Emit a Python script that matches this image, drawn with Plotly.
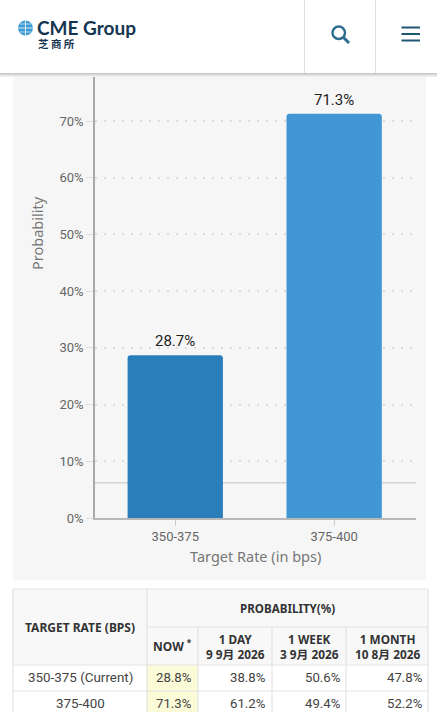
import plotly.graph_objects as go

W, H = 437, 712
FONT = "Roboto, Noto Sans CJK SC, sans-serif"
BODY = "Noto Sans, Noto Sans CJK SC, sans-serif"

# ---- data ----
categories = ["350-375", "375-400"]
probabilities = [28.7, 71.3]
bar_labels = ["28.7%", "71.3%"]
bar_colors = ["#2a7fba", "#4197d4"]
y_ticks = [0, 10, 20, 30, 40, 50, 60, 70]
y_tick_labels = ["0%", "10%", "20%", "30%", "40%", "50%", "60%", "70%"]
reference_level = 6.2

table_rates = ["350-375 (Current)", "375-400"]
table_now = ["28.8%", "71.3%"]
table_day = ["38.8%", "61.2%"]
table_week = ["50.6%", "49.4%"]
table_month = ["47.8%", "52.2%"]
table_heads = ["1 DAY<br>9 9月 2026", "1 WEEK<br>3 9月 2026", "1 MONTH<br>10 8月 2026"]


def px(x):
    return x / W


def py(y):
    return 1 - y / H


shapes, notes = [], []


def rect(x0, y0, x1, y1, fill, line=None, layer="above", lw=1):
    shapes.append(dict(type="rect", xref="paper", yref="paper", layer=layer,
                       x0=px(x0), x1=px(x1), y0=py(y0), y1=py(y1), fillcolor=fill,
                       line=dict(color=line or fill, width=lw if line else 0)))


def seg(x0, y0, x1, y1, color, w=1, layer="above"):
    shapes.append(dict(type="line", xref="paper", yref="paper", layer=layer,
                       x0=px(x0), x1=px(x1), y0=py(y0), y1=py(y1),
                       line=dict(color=color, width=w)))


def note(x, y, text, size=12, color="#444", anchor="center", weight=None, family=FONT, angle=0):
    if weight:
        text = f"<b>{text}</b>"
    notes.append(dict(xref="paper", yref="paper", x=px(x), y=py(y), text=text, showarrow=False,
                      xanchor=anchor, yanchor="middle", align=anchor, textangle=angle,
                      font=dict(family=family, size=size, color=color)))


# chart panel
rect(13, 70, 426, 580, "#f6f6f6", layer="below")
# reference line behind the bars
shapes.append(dict(type="line", xref="x domain", yref="y", layer="below", x0=0, x1=1,
                   y0=reference_level, y1=reference_level, line=dict(color="#d4d4d4", width=1.5)))

# header
for i, c in enumerate(["#f0f0f0", "#e4e4e4", "#d6d6d6", "#c8c8c8"]):
    rect(0, 73 + 3 - i, W, 73 + 4 - i, c)
rect(0, 0, W, 73, "#ffffff")
seg(304.5, 0, 304.5, 73, "#dedede")
seg(375.5, 0, 375.5, 73, "#dedede")
# globe logo
shapes.append(dict(type="circle", xref="paper", yref="paper", x0=px(18), x1=px(33), y0=py(35.5), y1=py(20.5),
                   fillcolor="#3f9bd6", line=dict(width=0), layer="above"))
seg(18, 28, 33, 28, "#ffffff", 0.8)
seg(25.5, 20.5, 25.5, 35.5, "#ffffff", 0.8)
seg(20, 24, 31, 24, "#ffffff", 0.6)
seg(20, 32, 31, 32, "#ffffff", 0.6)
note(34.5, 28, "CME Group", 19, "#14344f", "left", weight=True, family="Lato, sans-serif")
note(36, 43, "芝 商 所", 10.5, "#14344f", "left", weight=True, family="Noto Sans CJK SC")
# search icon
shapes.append(dict(type="circle", xref="paper", yref="paper", x0=px(332.5), x1=px(345), y0=py(39), y1=py(26.5),
                   fillcolor="rgba(0,0,0,0)", line=dict(color="#2f6d8e", width=2.4), layer="above"))
seg(343.5, 37.5, 349, 43, "#2f6d8e", 3)
# menu icon
for yy in (27.5, 34, 40.5):
    seg(401.5, yy, 420, yy, "#1f5773", 2)

# axis titles
note(37, 233, "Probability", 14.5, "#777", angle=-90, family=BODY)
note(255, 556, "Target Rate (in bps)", 14.5, "#777", family=BODY)

# table frame and cells
col_x = [13, 147, 198, 272, 346, 428]
rect(13, 589, 428, 665, "#f8f8f8", layer="below")
rect(13, 665, 428, 717, "#ffffff", layer="below")
rect(147, 665, 198, 717, "#fbfbd8", layer="below")
for x in col_x:
    seg(x, 589 if x in (13, 147, 428) else 627, x, 712, "#e3e3e3", 1.2)
seg(13, 589, 428, 589, "#e3e3e3", 1.2)
seg(147, 627, 428, 627, "#e3e3e3", 1.2)
seg(13, 665, 428, 665, "#e3e3e3", 1.2)
seg(13, 691, 428, 691, "#e3e3e3", 1.2)

note(80, 627, "TARGET RATE (BPS)", 12, "#333", weight=True, family=BODY)
note(287.5, 608, "PROBABILITY(%)", 11.6, "#333", weight=True, family=BODY)
note(172.5, 646, "NOW <sup>*</sup>", 12, "#333", weight=True, family=BODY)
for i, head in enumerate(table_heads):
    note((col_x[i + 2] + col_x[i + 3]) / 2, 646, head, 11.8, "#333", weight=True, family=BODY)

row_mid = [677.5, 703.5]
for r in range(2):
    note(80, row_mid[r], table_rates[r], 13.4, "#444")
    note(194, row_mid[r], table_now[r], 13.2, "#444", "right")
    note(268, row_mid[r], table_day[r], 13.2, "#444", "right")
    note(343, row_mid[r], table_week[r], 13.2, "#444", "right")
    note(425, row_mid[r], table_month[r], 13.2, "#444", "right")

# labels above the bars, tied to the data scale
for cat, val, lab in zip(categories, probabilities, bar_labels):
    notes.append(dict(xref="x", yref="y", x=cat, y=val, text=lab, showarrow=False, yanchor="bottom",
                      yshift=3, font=dict(family=FONT, size=15, color="#222")))

fig = go.Figure(go.Bar(
    x=categories, y=probabilities, width=0.6,
    marker=dict(color=bar_colors, cornerradius=3, line=dict(width=0)), hoverinfo="skip",
))

fig.update_layout(
    width=W, height=H, margin=dict(l=0, r=0, t=0, b=0, autoexpand=False), autosize=False,
    paper_bgcolor="#ffffff", plot_bgcolor="rgba(0,0,0,0)", showlegend=False,
    font=dict(family=FONT, color="#666"), shapes=shapes, annotations=notes,
    xaxis=dict(domain=[px(95), px(416)], range=[-0.505, 1.515], type="category", showgrid=False,
               showline=True, linecolor="#b8b8b8", linewidth=1.5, ticks="outside", ticklen=6,
               tickcolor="#cccccc", tickfont=dict(size=13, color="#666")),
    yaxis=dict(domain=[py(518), py(73)], range=[0, 78.48], tickmode="array", tickvals=y_ticks,
               ticktext=y_tick_labels, showgrid=True, gridcolor="#dcdcdc", griddash="2px,7px", gridwidth=1.5,
               showline=True, linecolor="#a8a8a8", linewidth=1.5, ticks="outside", ticklen=7,
               tickcolor="#dddddd", zeroline=False, tickfont=dict(size=13, color="#666")),
)

fig.write_html("out.html", config=dict(displayModeBar=False, responsive=False),
               post_script="document.body.style.margin='0';document.body.style.overflow='hidden';")
